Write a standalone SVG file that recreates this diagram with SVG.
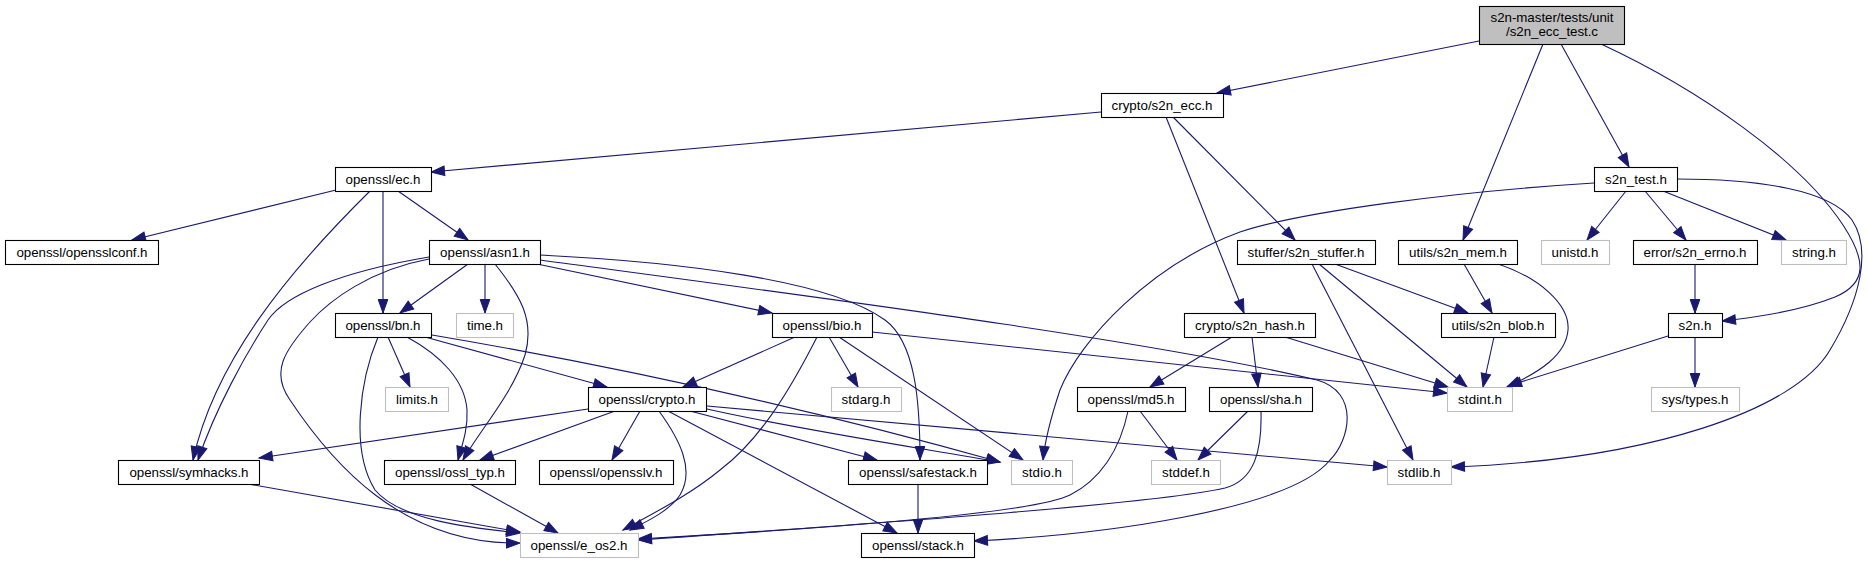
<svg xmlns="http://www.w3.org/2000/svg" width="1868" height="563" viewBox="0 0 1868 563">
<style>
.n rect{fill:#fff;stroke:#000;stroke-width:1.1}
.g rect{fill:#fff;stroke:#bfbfbf;stroke-width:1.1}
.root rect{fill:#bfbfbf;stroke:#000;stroke-width:1.1}
text{font-family:"Liberation Sans",Arial,Helvetica,sans-serif;font-size:13.33px;fill:#000;text-anchor:middle}
#edges path{fill:none;stroke:#191970;stroke-width:1.1;marker-end:url(#a)}
</style>
<defs>
<marker id="a" markerWidth="15" markerHeight="11" refX="13.5" refY="5" orient="auto" markerUnits="userSpaceOnUse" overflow="visible">
<path d="M0,0.2 L13.5,5 L0,9.8 z" fill="#191970" stroke="#191970" stroke-width="1"/>
</marker>
</defs>
<rect width="1868" height="563" fill="#fff"/>
<g id="edges">
<path d="M1479,41 L1217,93"/>
<path d="M1543,44 L1463,240"/>
<path d="M1561,44 L1629,167"/>
<path d="M1601,44 C1700,90 1800,160 1843,225 C1866,260 1868,283 1835,297 C1800,311 1760,317 1722,321"/>
<path d="M1677,179 C1760,179 1830,190 1852,220 C1872,250 1860,300 1830,350 C1795,410 1650,460 1451,467"/>
<path d="M1101,112 L431,172"/>
<path d="M1173,117 L1295,240"/>
<path d="M1166,117 L1244,313"/>
<path d="M336,190 L132,240"/>
<path d="M398,191 L468,240"/>
<path d="M383,191 L383,313"/>
<path d="M370,191 C290,270 215,360 193,460"/>
<path d="M429,257 C340,272 285,295 268,320 C245,355 215,410 198,460"/>
<path d="M429,259 C370,270 330,300 310,322 C285,350 270,372 290,400 C330,460 400,545 520,543"/>
<path d="M468,264 L400,313"/>
<path d="M485,264 L485,313"/>
<path d="M495,264 C520,295 535,320 525,355 C512,395 480,430 463,460"/>
<path d="M537,264 L772,313"/>
<path d="M540,260 C800,295 1150,340 1317,380 C1360,392 1350,440 1330,460 C1290,510 1100,535 974,541"/>
<path d="M540,255 C680,262 830,280 885,320 C915,342 920,400 920,460"/>
<path d="M388,337 L410,387"/>
<path d="M425,337 L607,387"/>
<path d="M432,335 C650,372 850,420 1000,462"/>
<path d="M407,337 C440,355 465,380 467,410 C468,430 462,445 458,460"/>
<path d="M378,337 C360,380 350,450 375,490 C400,520 470,528 520,533"/>
<path d="M795,337 L683,387"/>
<path d="M829,337 L858,387"/>
<path d="M839,337 L1023,460"/>
<path d="M817,337 C790,390 760,440 720,470 C690,495 650,515 623,530"/>
<path d="M872,332 C1100,355 1300,377 1447,393"/>
<path d="M588,409 L259,458"/>
<path d="M615,411 L480,460"/>
<path d="M640,411 L612,460"/>
<path d="M659,411 C680,440 695,470 680,495 C670,510 650,520 630,530"/>
<path d="M690,411 L877,460"/>
<path d="M707,409 C800,430 920,448 1000,462"/>
<path d="M668,411 L897,533"/>
<path d="M707,406 L1387,467"/>
<path d="M248,484 L520,532"/>
<path d="M470,484 L558,533"/>
<path d="M918,484 L918,533"/>
<path d="M1594,183 C1450,192 1300,212 1240,232 C1150,265 1080,340 1060,390 C1050,420 1045,440 1043,460"/>
<path d="M1626,191 L1587,240"/>
<path d="M1645,191 L1686,240"/>
<path d="M1663,191 L1786,240"/>
<path d="M1335,264 L1468,313"/>
<path d="M1319,264 L1467,387"/>
<path d="M1312,264 L1413,460"/>
<path d="M1464,264 L1492,313"/>
<path d="M1498,264 C1540,278 1570,305 1568,330 C1566,355 1540,372 1507,387"/>
<path d="M1232,337 L1150,387"/>
<path d="M1252,337 L1258,387"/>
<path d="M1285,337 L1448,387"/>
<path d="M1140,411 L1177,460"/>
<path d="M1128,411 C1120,450 1100,480 1070,495 C1030,515 800,530 638,539"/>
<path d="M1248,411 L1198,460"/>
<path d="M1261,411 C1262,450 1255,480 1225,488 C1150,505 850,525 638,540"/>
<path d="M1494,337 L1483,387"/>
<path d="M1695,264 L1695,313"/>
<path d="M1668,336 L1508,386"/>
<path d="M1695,337 L1695,387"/>
</g>
<g id="node-test" class="root"><rect x="1479.5" y="6.5" width="145" height="38"/><text x="1552" y="22" textLength="123">s2n-master/tests/unit</text><text x="1552" y="36" textLength="92">/s2n_ecc_test.c</text></g>
<g id="node-ecc" class="n"><rect x="1101.5" y="93.5" width="122" height="24"/><text x="1162" y="110" textLength="101">crypto/s2n_ecc.h</text></g>
<g id="node-ec" class="n"><rect x="335.5" y="167.5" width="96" height="24"/><text x="383" y="184" textLength="75">openssl/ec.h</text></g>
<g id="node-s2ntest" class="n"><rect x="1594.5" y="167.5" width="83" height="24"/><text x="1636" y="184" textLength="62">s2n_test.h</text></g>
<g id="node-conf" class="n"><rect x="5.5" y="240.5" width="153" height="24"/><text x="82" y="257" textLength="131">openssl/opensslconf.h</text></g>
<g id="node-asn1" class="n"><rect x="429.5" y="240.5" width="111" height="24"/><text x="485" y="257" textLength="90">openssl/asn1.h</text></g>
<g id="node-stuffer" class="n"><rect x="1237.5" y="240.5" width="138" height="24"/><text x="1306" y="257" textLength="117">stuffer/s2n_stuffer.h</text></g>
<g id="node-mem" class="n"><rect x="1398.5" y="240.5" width="119" height="24"/><text x="1458" y="257" textLength="98">utils/s2n_mem.h</text></g>
<g id="node-unistd" class="g"><rect x="1541.5" y="240.5" width="68" height="24"/><text x="1575" y="257" textLength="47">unistd.h</text></g>
<g id="node-errno" class="n"><rect x="1633.5" y="240.5" width="124" height="24"/><text x="1695" y="257" textLength="103">error/s2n_errno.h</text></g>
<g id="node-string" class="g"><rect x="1781.5" y="240.5" width="65" height="24"/><text x="1814" y="257" textLength="44">string.h</text></g>
<g id="node-bn" class="n"><rect x="335.5" y="313.5" width="96" height="24"/><text x="383" y="330" textLength="75">openssl/bn.h</text></g>
<g id="node-time" class="g"><rect x="456.5" y="313.5" width="57" height="24"/><text x="485" y="330" textLength="36">time.h</text></g>
<g id="node-bio" class="n"><rect x="772.5" y="313.5" width="100" height="24"/><text x="822" y="330" textLength="79">openssl/bio.h</text></g>
<g id="node-hash" class="n"><rect x="1184.5" y="313.5" width="131" height="24"/><text x="1250" y="330" textLength="110">crypto/s2n_hash.h</text></g>
<g id="node-blob" class="n"><rect x="1441.5" y="313.5" width="114" height="24"/><text x="1498" y="330" textLength="93">utils/s2n_blob.h</text></g>
<g id="node-s2n" class="n"><rect x="1668.5" y="313.5" width="54" height="24"/><text x="1695" y="330" textLength="33">s2n.h</text></g>
<g id="node-limits" class="g"><rect x="385.5" y="387.5" width="63" height="24"/><text x="417" y="404" textLength="42">limits.h</text></g>
<g id="node-crypto" class="n"><rect x="588.5" y="387.5" width="118" height="24"/><text x="647" y="404" textLength="97">openssl/crypto.h</text></g>
<g id="node-stdarg" class="g"><rect x="831.5" y="387.5" width="70" height="24"/><text x="866" y="404" textLength="49">stdarg.h</text></g>
<g id="node-md5" class="n"><rect x="1077.5" y="387.5" width="108" height="24"/><text x="1131" y="404" textLength="87">openssl/md5.h</text></g>
<g id="node-sha" class="n"><rect x="1209.5" y="387.5" width="103" height="24"/><text x="1261" y="404" textLength="82">openssl/sha.h</text></g>
<g id="node-stdint" class="g"><rect x="1447.5" y="387.5" width="65" height="24"/><text x="1480" y="404" textLength="44">stdint.h</text></g>
<g id="node-systypes" class="g"><rect x="1651.5" y="387.5" width="88" height="24"/><text x="1695" y="404" textLength="67">sys/types.h</text></g>
<g id="node-symhacks" class="n"><rect x="118.5" y="460.5" width="141" height="24"/><text x="189" y="477" textLength="119">openssl/symhacks.h</text></g>
<g id="node-ossltyp" class="n"><rect x="384.5" y="460.5" width="131" height="24"/><text x="450" y="477" textLength="110">openssl/ossl_typ.h</text></g>
<g id="node-opensslv" class="n"><rect x="539.5" y="460.5" width="134" height="24"/><text x="606" y="477" textLength="113">openssl/opensslv.h</text></g>
<g id="node-safestack" class="n"><rect x="848.5" y="460.5" width="139" height="24"/><text x="918" y="477" textLength="118">openssl/safestack.h</text></g>
<g id="node-stdio" class="g"><rect x="1011.5" y="460.5" width="61" height="24"/><text x="1042" y="477" textLength="40">stdio.h</text></g>
<g id="node-stddef" class="g"><rect x="1151.5" y="460.5" width="69" height="24"/><text x="1186" y="477" textLength="48">stddef.h</text></g>
<g id="node-stdlib" class="g"><rect x="1387.5" y="460.5" width="64" height="24"/><text x="1419" y="477" textLength="43">stdlib.h</text></g>
<g id="node-eos2" class="g"><rect x="520.5" y="533.5" width="118" height="24"/><text x="579" y="550" textLength="97">openssl/e_os2.h</text></g>
<g id="node-stack" class="n"><rect x="861.5" y="533.5" width="113" height="24"/><text x="918" y="550" textLength="92">openssl/stack.h</text></g>
</svg>
